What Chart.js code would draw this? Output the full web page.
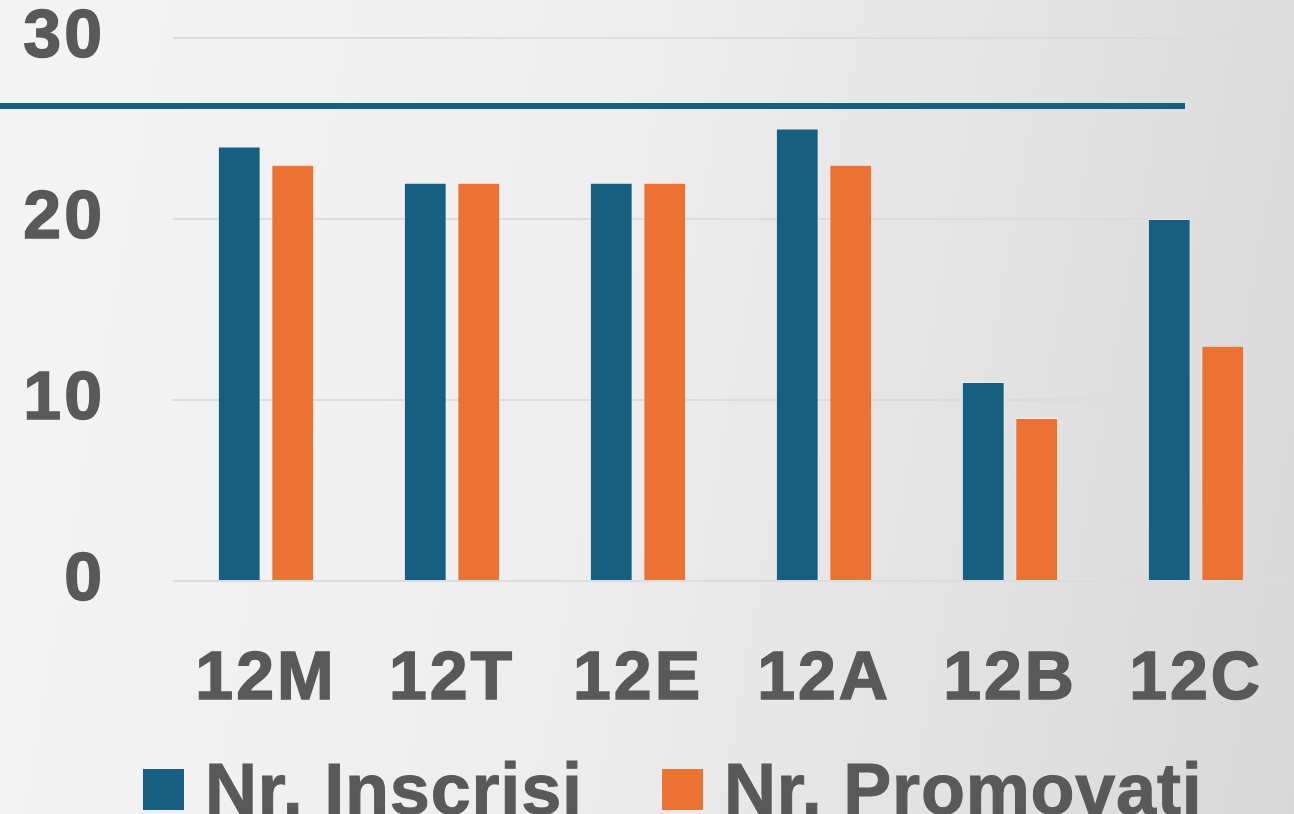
<!DOCTYPE html>
<html>
<head>
<meta charset="utf-8">
<script src="https://cdn.jsdelivr.net/npm/chart.js@4"></script>
<style>
  html, body { margin: 0; padding: 0; }
  body {
    width: 1294px; height: 814px; overflow: hidden; position: relative;
    background: linear-gradient(100deg, #f4f4f4 0%, #eeeeee 45%, #d8d8d8 100%);
    font-family: "Liberation Sans", Arial, sans-serif;
  }
  #wrap { position: absolute; left: 0; top: 0; width: 1294px; height: 814px; }
  #rule { position: absolute; left: 0; top: 103px; width: 1185px; height: 6px; background: #17607f; }
  .lg-box { position: absolute; top: 769px; width: 41px; height: 41px; }
  .lg-text {
    position: absolute; top: 753px; font-size: 72px; line-height: 72px; font-weight: bold;
    letter-spacing: 0.8px;
    color: #595959; -webkit-text-stroke: 1px #595959; white-space: nowrap;
  }
</style>
</head>
<body>
<div id="wrap"><canvas id="chart"></canvas></div>
<div id="rule"></div>
<div id="legend"></div>
<script>
const classes = ['12M', '12T', '12E', '12A', '12B', '12C'];
const inscrisi = [24, 22, 22, 25, 11, 20];
const promovati = [23, 22, 22, 23, 9, 13];
const seriesNames = ['Nr. Inscrisi', 'Nr. Promovati'];
const seriesColors = ['#175f81', '#eb7233'];

const textColor = '#595959';
const fontFamily = '"Liberation Sans", Arial, sans-serif';

// legend drawn as html so the box/text gap matches
const legendPos = [{ box: 143, text: 205 }, { box: 662, text: 724 }];
const legendEl = document.getElementById('legend');
seriesNames.forEach((name, i) => {
    const box = document.createElement('div');
    box.className = 'lg-box';
    box.style.left = legendPos[i].box + 'px';
    box.style.background = seriesColors[i];
    legendEl.appendChild(box);
    const txt = document.createElement('div');
    txt.className = 'lg-text';
    txt.style.left = legendPos[i].text + 'px';
    txt.textContent = name;
    legendEl.appendChild(txt);
});

const tickFont = { family: fontFamily, size: 68, weight: 'bold' };

// the original labels are a little spaced out
const spacing = {
    id: 'spacing',
    beforeDraw: (c) => { c.ctx.letterSpacing = '3px'; },
    afterDraw: (c) => { c.ctx.letterSpacing = '0px'; }
};

const ctx = document.getElementById('chart').getContext('2d');
const chart = new Chart(ctx, {
    type: 'bar',
    data: {
        labels: classes,
        datasets: [
            {
                label: seriesNames[0],
                data: inscrisi,
                backgroundColor: seriesColors[0],
                borderColor: 'rgba(255,255,255,0.35)',
                borderWidth: 1,
                barPercentage: 0.8,
                categoryPercentage: 0.575
            },
            {
                label: seriesNames[1],
                data: promovati,
                backgroundColor: seriesColors[1],
                borderColor: 'rgba(255,255,255,0.35)',
                borderWidth: 1,
                barPercentage: 0.8,
                categoryPercentage: 0.575
            }
        ]
    },
    options: {
        responsive: true,
        maintainAspectRatio: false,
        animation: false,
        layout: { padding: { left: 22, right: 5, top: 0, bottom: 0 } },
        plugins: {
            legend: { display: false },
            tooltip: { enabled: false }
        },
        scales: {
            x: {
                grid: { display: false },
                border: { display: false },
                afterFit: (scale) => {
                    scale.height = 233;
                    scale.paddingLeft = 0;
                    scale.paddingRight = 0;
                },
                ticks: {
                    color: textColor,
                    padding: 50,
                    textStrokeColor: textColor,
                    textStrokeWidth: 1.5,
                    font: tickFont
                }
            },
            y: {
                min: 0,
                max: 30,
                border: { display: false },
                grid: { color: '#dcdcdc', lineWidth: 2, drawTicks: false },
                afterFit: (scale) => {
                    scale.width = 151;
                    scale.paddingTop = 38;
                    scale.paddingBottom = 0;
                },
                ticks: {
                    stepSize: 10,
                    color: textColor,
                    padding: 68,
                    textStrokeColor: textColor,
                    textStrokeWidth: 1.5,
                    font: tickFont
                }
            }
        }
    },
    plugins: [spacing]
});
</script>
</body>
</html>
